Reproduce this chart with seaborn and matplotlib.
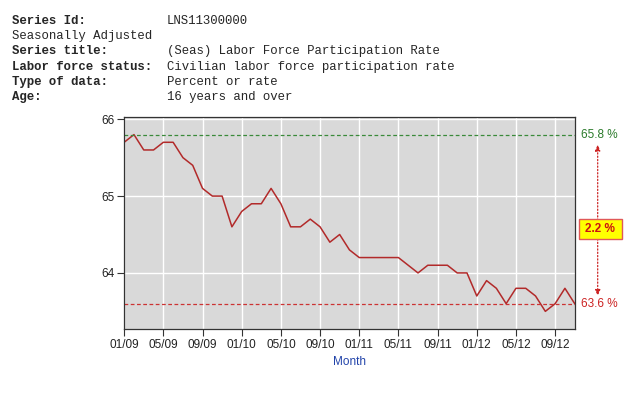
import pandas as pd
import matplotlib
matplotlib.use("Agg")
import matplotlib.pyplot as plt
from matplotlib.patches import Rectangle
import seaborn as sns

# header info
header_keys = ["Series Id:", "Seasonally Adjusted", "Series title:",
               "Labor force status:", "Type of data:", "Age:"]
header_vals = ["LNS11300000", "", "(Seas) Labor Force Participation Rate",
               "Civilian labor force participation rate", "Percent or rate",
               "16 years and over"]
header_bold = [True, False, True, True, True, True]

# monthly values 01/09 .. 11/12
rate_2009 = [65.7, 65.8, 65.6, 65.6, 65.7, 65.7, 65.5, 65.4, 65.1, 65.0, 65.0, 64.6]
rate_2010 = [64.8, 64.9, 64.9, 65.1, 64.9, 64.6, 64.6, 64.7, 64.6, 64.4, 64.5, 64.3]
rate_2011 = [64.2, 64.2, 64.2, 64.2, 64.2, 64.1, 64.0, 64.1, 64.1, 64.1, 64.0, 64.0]
rate_2012 = [63.7, 63.9, 63.8, 63.6, 63.8, 63.8, 63.7, 63.5, 63.6, 63.8, 63.6]
tick_labels = ["01/09", "05/09", "09/09", "01/10", "05/10", "09/10",
               "01/11", "05/11", "09/11", "01/12", "05/12", "09/12"]
high_val = 65.8
low_val = 63.6

values = rate_2009 + rate_2010 + rate_2011 + rate_2012
df = pd.DataFrame({"month": range(len(values)), "rate": values})

sns.set_style("whitegrid")
plt.rcParams["font.family"] = ["Liberation Sans", "DejaVu Sans"]

fig = plt.figure(figsize=(6.4, 3.95), dpi=100)
ax = fig.add_axes([0.194, 0.167, 0.704, 0.537])

# header block
for i, (k, v, b) in enumerate(zip(header_keys, header_vals, header_bold)):
    y = 1 - (21 + i * 15.2) / 395
    fig.text(12 / 640, y, k, family="Liberation Mono", fontsize=8.9,
             fontweight="bold" if b else "normal", va="center")
    fig.text(167 / 640, y, v, family="Liberation Mono", fontsize=8.9, va="center")

ax.set_facecolor("#d9d9d9")
sns.lineplot(data=df, x="month", y="rate", ax=ax, color="#b22a2a", linewidth=1.1)

ax.axhline(high_val, color="#3a8a3a", linestyle=(0, (3, 2)), linewidth=0.9)
ax.axhline(low_val, color="#cc3333", linestyle=(0, (3, 2)), linewidth=0.9)

ax.set_xlim(0, len(values) - 1)
ax.set_ylim(63.27, 66.03)
ax.set_xticks(range(0, len(values), 4))
ax.set_xticklabels(tick_labels)
ax.set_yticks([64, 65, 66])
ax.set_yticklabels(["64", "65", "66"])
ax.grid(True, color="white", linewidth=1.0)
ax.tick_params(axis="both", direction="out", length=5, width=0.8, color="#333333",
               labelsize=8.5, labelcolor="#222222", pad=2, left=True, bottom=True)
for s in ax.spines.values():
    s.set_color("#333333")
    s.set_linewidth(0.9)

ax.set_xlabel("Month", color="#2244aa", fontsize=8.5, labelpad=4)
ax.set_ylabel("")

# right-side annotations
tr = ax.get_yaxis_transform()
ax.text(1.013, high_val, f"{high_val} %", transform=tr, color="#2a7a2a",
        fontsize=8.5, va="center", ha="left")
ax.text(1.013, low_val, f"{low_val} %", transform=tr, color="#cc2222",
        fontsize=8.5, va="center", ha="left")
ax.annotate("", xy=(1.051, 63.7), xytext=(1.051, 65.67), xycoords=tr, textcoords=tr,
            arrowprops=dict(arrowstyle="<|-|>,head_length=0.35,head_width=0.15",
                            linestyle=":", color="#cc2222", linewidth=0.9,
                            shrinkA=0, shrinkB=0),
            annotation_clip=False)
ax.add_patch(Rectangle((1.009, 64.44), 0.095, 0.26, transform=tr, clip_on=False,
                       facecolor="#ffff00", edgecolor="#e05858", linewidth=1.0,
                       zorder=5))
ax.text(1.0565, 64.57, f"{round(high_val - low_val, 1)} %", transform=tr,
        color="#cc1111", fontsize=8.5, fontweight="bold", ha="center", va="center",
        zorder=6)

plt.savefig("out.png", dpi=100)
plt.close()
